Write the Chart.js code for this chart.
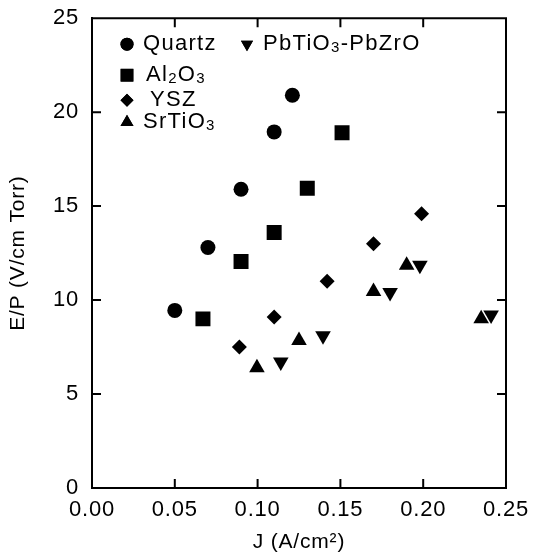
<!DOCTYPE html>
<html><head><meta charset="utf-8">
<script src="https://cdn.jsdelivr.net/npm/chart.js@4"></script>
<style>html,body{margin:0;padding:0;background:#fff}#wrap{width:533px;height:558px}</style>
</head><body><div id="wrap"><canvas id="c"></canvas></div>
<script>
const seriesNames = ['Quartz', 'PbTiO3-PbZrO', 'Al2O3', 'YSZ', 'SrTiO3'];
const quartzJ  = [0.050, 0.070, 0.090, 0.110, 0.121];
const quartzEP = [9.45, 12.8, 15.9, 18.95, 20.9];
const pbJ  = [0.114, 0.1395, 0.180, 0.198, 0.241];
const pbEP = [6.7, 8.1, 10.4, 11.85, 9.2];
const aluminaJ  = [0.067, 0.090, 0.110, 0.130, 0.151];
const aluminaEP = [9.0, 12.05, 13.6, 15.95, 18.9];
const yszJ  = [0.089, 0.110, 0.142, 0.170, 0.199];
const yszEP = [7.5, 9.1, 11.0, 13.0, 14.6];
const srJ  = [0.0996, 0.125, 0.170, 0.190, 0.235];
const srEP = [6.4, 7.85, 10.45, 11.85, 9.0];
const xTicks = [0, 0.05, 0.10, 0.15, 0.20, 0.25];
const yTicks = [0, 5, 10, 15, 20, 25];
const xTitle = 'J (A/cm\u00B2)';
const yTitle = 'E/P (V/cm Torr)';

const FONT = "'Liberation Sans', Arial, sans-serif";
const pts = (xs, ys) => xs.map((x, i) => ({x: x, y: ys[i]}));
const styles = [
  {pointStyle: 'circle', radius: 7.5, rotation: 0},
  {pointStyle: 'triangle', radius: 9, rotation: 180},
  {pointStyle: 'rect', radius: 10.6, rotation: 0},
  {pointStyle: 'rectRot', radius: 7.5, rotation: 0},
  {pointStyle: 'triangle', radius: 9, rotation: 0}
];
const dataSets = [[quartzJ, quartzEP], [pbJ, pbEP], [aluminaJ, aluminaEP], [yszJ, yszEP], [srJ, srEP]];
const datasets = dataSets.map((d, i) => ({
  label: seriesNames[i],
  data: pts(d[0], d[1]),
  pointStyle: styles[i].pointStyle,
  pointRadius: styles[i].radius,
  pointRotation: styles[i].rotation,
  backgroundColor: '#000',
  borderColor: '#000',
  borderWidth: 0,
  showLine: false
}));

// legend layout (offsets from chart area's top-left); real text, digits drawn as subscripts
const legendPos = [
  {mx: 35, my: 26, tx: 51, r: 6.5},
  {mx: 155, my: 26, tx: 171, r: 7},
  {mx: 35, my: 57, tx: 54, r: 9},
  {mx: 35, my: 82, tx: 58, r: 6.5},
  {mx: 35, my: 104, tx: 51, r: 7.5}
];
const spacingPlugin = {
  id: 'spacing',
  beforeDraw(chart) { if ('letterSpacing' in chart.ctx) chart.ctx.letterSpacing = '0.8px'; }
};
const legendPlugin = {
  id: 'inLegend',
  afterDraw(chart) {
    const ctx = chart.ctx, a = chart.chartArea;
    ctx.save();
    chart.data.datasets.forEach((ds, i) => {
      const p = legendPos[i];
      ctx.fillStyle = '#000';
      Chart.helpers.drawPoint(ctx, {pointStyle: ds.pointStyle, rotation: ds.pointRotation, radius: p.r, borderWidth: 0}, a.left + p.mx, a.top + p.my);
      ctx.fill();
      let x = a.left + p.tx;
      const y = a.top + p.my;
      ctx.textBaseline = 'middle';
      if ('letterSpacing' in ctx) ctx.letterSpacing = '1.3px';
      const parts = ds.label.match(/(\d+|[^\d]+)/g);
      parts.forEach(s => {
        const sub = /^\d+$/.test(s);
        ctx.font = (sub ? '15px ' : '22px ') + FONT;
        ctx.fillText(s, x, sub ? y + 4 : y);
        x += ctx.measureText(s).width;
      });
    });
    ctx.restore();
  }
};
const framePlugin = {
  id: 'frame',
  afterDatasetsDraw(chart) {
    const ctx = chart.ctx, a = chart.chartArea, xs = chart.scales.x, ys = chart.scales.y;
    const L = 9;
    ctx.save();
    ctx.strokeStyle = '#000';
    ctx.lineWidth = 2;
    ctx.beginPath();
    ctx.moveTo(a.left, a.top); ctx.lineTo(a.right, a.top); ctx.lineTo(a.right, a.bottom);
    xTicks.forEach(v => {
      const px = xs.getPixelForValue(v);
      ctx.moveTo(px, a.bottom); ctx.lineTo(px, a.bottom - L);
      ctx.moveTo(px, a.top); ctx.lineTo(px, a.top + L);
    });
    yTicks.forEach(v => {
      const py = ys.getPixelForValue(v);
      ctx.moveTo(a.left, py); ctx.lineTo(a.left + L, py);
      ctx.moveTo(a.right, py); ctx.lineTo(a.right - L, py);
    });
    ctx.stroke();
    ctx.restore();
  }
};

new Chart(document.getElementById('c'), {
  type: 'scatter',
  data: {datasets},
  options: {
    responsive: true,
    maintainAspectRatio: false,
    animation: false,
    layout: {padding: {left: 0, top: 14, right: 27, bottom: 0}},
    plugins: {legend: {display: false}, tooltip: {enabled: false}},
    scales: {
      x: {
        type: 'linear', min: 0, max: 0.25,
        afterBuildTicks: s => { s.ticks = xTicks.map(v => ({value: v})); },
        afterFit: s => { s.height = 70; },
        grid: {display: false},
        border: {display: true, color: '#000', width: 2},
        ticks: {color: '#000', font: {family: FONT, size: 22}, padding: 1, maxRotation: 0,
                callback: v => Number(v).toFixed(2)},
        title: {display: true, text: xTitle, color: '#000', font: {family: FONT, size: 21}, padding: {top: 0, bottom: 3}}
      },
      y: {
        type: 'linear', min: 0, max: 25,
        afterBuildTicks: s => { s.ticks = yTicks.map(v => ({value: v})); },
        afterFit: s => { s.width = 92; },
        grid: {display: false},
        border: {display: true, color: '#000', width: 2},
        ticks: {color: '#000', font: {family: FONT, size: 22}, padding: 5},
        title: {display: true, text: yTitle, color: '#000', font: {family: FONT, size: 21}, padding: {top: 6, bottom: 0}}
      }
    }
  },
  plugins: [spacingPlugin, framePlugin, legendPlugin]
});
</script>
</body></html>
